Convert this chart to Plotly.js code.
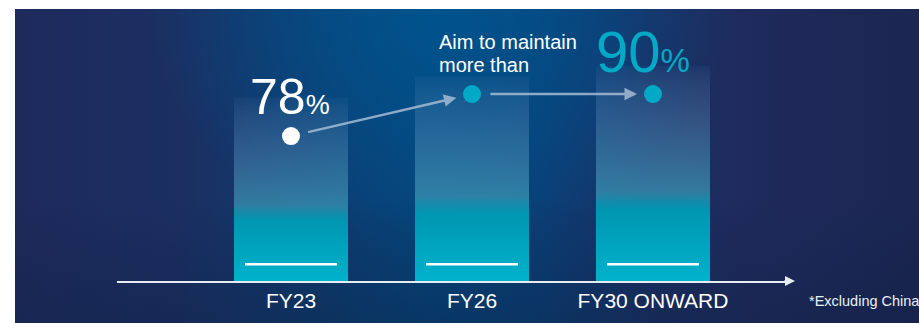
<!DOCTYPE html>
<html>
<head>
<meta charset="utf-8">
<script src="https://cdn.plot.ly/plotly-3.0.1.min.js"></script>
<style>
  html, body { margin: 0; padding: 0; background: #ffffff; }
  #wrap { position: relative; width: 919px; height: 323px; overflow: hidden; }
  #bg {
    position: absolute; left: 15px; top: 9px; width: 904px; height: 314px;
    background:
      linear-gradient(0deg, rgba(12,30,62,0.35) 0%, rgba(12,30,62,0) 40%),
      radial-gradient(ellipse 32% 75% at 47% 0%, rgba(0,84,142,0.95) 0%, rgba(0,80,140,0) 100%),
      linear-gradient(90deg, #1e2a5c 0%, #1b2f62 18%, #0e3b6f 33%, #05457b 46%, #0a3f76 58%, #1a3064 70%, #1f2a5c 82%, #1b2652 100%);
  }
  #chart { position: absolute; left: 0; top: 0; width: 919px; height: 323px; }
</style>
</head>
<body>
<div id="wrap">
  <div id="bg"></div>
  <div id="chart"></div>
</div>
<script>
// ---- data ----
const categories = ["FY23", "FY26", "FY30 ONWARD"];
const dotValues = [78, 90, 90];            // % values marked by dots
const barTops = [89, 95, 98];              // top of each fading bar (same scale)
const valueLabels = ["78", "", "90"];
const footnote = "*Excluding China";

// ---- layout helpers ----
const xPos = categories.map((c, i) => i);
const yRange = [36.6, 114.3];
const base = yRange[0];
const halfW = 0.315;
const teal = "#00a9c6";

const barScale = [
  [0.00, "rgba(0,178,202,1)"],
  [0.12, "rgba(0,168,194,1)"],
  [0.33, "rgba(0,150,177,1)"],
  [0.37, "rgba(20,146,176,0.92)"],
  [0.42, "rgba(60,148,180,0.74)"],
  [0.58, "rgba(72,145,182,0.56)"],
  [0.76, "rgba(85,140,184,0.38)"],
  [0.92, "rgba(95,140,186,0.2)"],
  [1.00, "rgba(95,140,186,0.07)"]
];

const traces = [];
xPos.forEach((x, i) => {
  traces.push({
    type: "scatter", mode: "lines",
    x: [x - halfW, x - halfW, x + halfW, x + halfW, x - halfW],
    y: [base, barTops[i], barTops[i], base, base],
    fill: "toself",
    fillcolor: "rgba(0,150,180,0.6)",
    fillgradient: { type: "vertical", colorscale: barScale },
    line: { width: 0, color: "rgba(0,0,0,0)" },
    hoverinfo: "skip", showlegend: false
  });
  // white baseline strip inside each bar
  traces.push({
    type: "scatter", mode: "lines",
    x: [x - 0.254, x + 0.254],
    y: [base + 4.8, base + 4.8],
    line: { color: "#ffffff", width: 2.5 },
    hoverinfo: "skip", showlegend: false
  });
});

traces.push({
  type: "scatter", mode: "markers",
  x: xPos, y: dotValues,
  marker: { size: 18, color: ["#ffffff", teal, teal], line: { width: 0 } },
  hoverinfo: "skip", showlegend: false
});

const font = "Liberation Sans, Arial, Helvetica, sans-serif";
const arrowColor = "rgba(165,188,212,0.85)";

const annotations = [
  // arrows between dots
  { x: xPos[1], y: dotValues[1], ax: xPos[0], ay: dotValues[0], xref: "x", yref: "y", axref: "x", ayref: "y",
    text: "", showarrow: true, arrowhead: 2, arrowsize: 1, arrowwidth: 2.5, arrowcolor: arrowColor,
    standoff: 16, startstandoff: 16 },
  { x: xPos[2], y: dotValues[2], ax: xPos[1], ay: dotValues[1], xref: "x", yref: "y", axref: "x", ayref: "y",
    text: "", showarrow: true, arrowhead: 2, arrowsize: 1, arrowwidth: 2.5, arrowcolor: arrowColor,
    standoff: 16, startstandoff: 17 },
  // 78%
  { x: xPos[0], y: dotValues[0], xref: "x", yref: "y", xanchor: "center", yanchor: "bottom", yshift: 9, xshift: -1,
    text: valueLabels[0] + "<span style='font-size:27px'>%</span>", showarrow: false,
    font: { family: font, size: 50, color: "#ffffff" } },
  // 90%
  { x: xPos[2], y: dotValues[2], xref: "x", yref: "y", xanchor: "center", yanchor: "bottom", yshift: 8, xshift: -10,
    text: valueLabels[2] + "<span style='font-size:33px'>%</span>", showarrow: false,
    font: { family: font, size: 58, color: teal } },
  // Aim to maintain / more than
  { x: xPos[1], y: dotValues[1], xref: "x", yref: "y", xanchor: "left", yanchor: "bottom", yshift: 39, xshift: -35,
    text: "Aim to maintain", showarrow: false, font: { family: font, size: 20, color: "#ffffff" } },
  { x: xPos[1], y: dotValues[1], xref: "x", yref: "y", xanchor: "left", yanchor: "bottom", yshift: 16, xshift: -35,
    text: "more than", showarrow: false, font: { family: font, size: 20, color: "#ffffff" } },
  // axis arrowhead
  { x: 1.0, y: 0, xref: "paper", yref: "paper", ax: -12, ay: 0, axref: "pixel", ayref: "pixel",
    text: "", showarrow: true, arrowhead: 2, arrowsize: 1, arrowwidth: 2, arrowcolor: "#e6ecf2", xshift: 5 },
  // footnote
  { x: 1.0282, y: 0, xref: "paper", yref: "paper", xanchor: "left", yanchor: "top", yshift: -10, xshift: -2,
    text: footnote, showarrow: false, font: { family: font, size: 14.5, color: "#e8eef5" } }
];

const layout = {
  width: 919, height: 323,
  margin: { l: 117, r: 129, t: 9, b: 42, pad: 0 },
  paper_bgcolor: "rgba(0,0,0,0)",
  plot_bgcolor: "rgba(0,0,0,0)",
  showlegend: false,
  xaxis: {
    range: [-0.9613, 2.7569], tickvals: xPos, ticktext: categories,
    showgrid: false, zeroline: false, showline: true, linecolor: "#e6ecf2", linewidth: 2,
    ticks: "", tickfont: { family: font, size: 21, color: "#ffffff" }, fixedrange: true
  },
  yaxis: {
    range: yRange, visible: false, showgrid: false, zeroline: false, fixedrange: true
  },
  annotations: annotations
};

Plotly.newPlot("chart", traces, layout, { displayModeBar: false, staticPlot: true });
</script>
</body>
</html>
